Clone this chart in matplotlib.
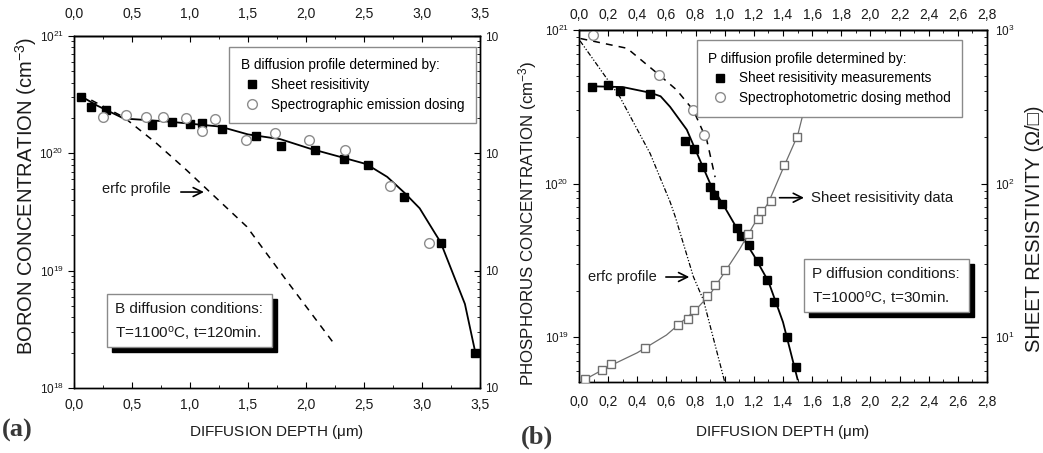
"""Boron / phosphorus diffusion profiles, two panels (a) and (b)."""
import numpy as np
import matplotlib
matplotlib.use("Agg")
import matplotlib.pyplot as plt
from matplotlib.patches import Rectangle
from matplotlib.ticker import (LogLocator, MultipleLocator, FuncFormatter,
                               NullFormatter, FixedLocator)

plt.rcParams.update({"font.family": ["Liberation Sans", "DejaVu Sans"],
                     "font.size": 10, "axes.linewidth": 1.0,
                     "mathtext.default": "regular"})

# ---- (a) boron -------------------------------------------------------------
B_SR_X = [0.06, 0.144, 0.276, 0.670, 0.848, 0.997, 1.101, 1.273, 1.569, 1.782,
          2.075, 2.325, 2.532, 2.845, 3.164, 3.455]
B_SR_C = [3.04e20, 2.47e20, 2.34e20, 1.75e20, 1.84e20, 1.79e20, 1.80e20, 1.62e20,
          1.41e20, 1.16e20, 1.07e20, 8.95e19, 8.0e19, 4.22e19, 1.71e19, 2.0e18]
B_SP_X = [0.247, 0.445, 0.621, 0.770, 0.963, 1.103, 1.213, 1.486, 1.730, 2.023,
          2.333, 2.724, 3.057]
B_SP_C = [2.03e20, 2.11e20, 2.06e20, 2.06e20, 1.99e20, 1.56e20, 1.95e20, 1.31e20,
          1.50e20, 1.30e20, 1.07e20, 5.3e19, 1.73e19]
B_FIT_X = [0.04, 0.2, 0.43, 0.8, 1.26, 1.5, 1.78, 2.03, 2.3, 2.52, 2.7, 2.85,
           2.98, 3.11, 3.16, 3.37, 3.46]
B_FIT_C = [3.15e20, 2.55e20, 1.98e20, 1.87e20, 1.69e20, 1.45e20, 1.32e20, 1.10e20,
           9.3e19, 8.1e19, 6.3e19, 4.6e19, 3.4e19, 2.1e19, 1.75e19, 5.2e18, 2.0e18]
B_ERFC_X = [0.05, 0.43, 0.71, 0.97, 1.2, 1.49, 1.83, 2.24]
B_ERFC_C = [3.2e20, 2.03e20, 1.22e20, 7.2e19, 4.4e19, 2.37e19, 8.3e18, 2.4e18]

# ---- (b) phosphorus ----------------------------------------------------------
P_SR_X = [0.087, 0.20, 0.28, 0.49, 0.728, 0.79, 0.843, 0.898, 0.927, 0.984,
          1.087, 1.113, 1.168, 1.227, 1.289, 1.339, 1.426, 1.486]
P_SR_C = [4.24e20, 4.37e20, 4.0e20, 3.83e20, 1.90e20, 1.69e20, 1.29e20, 9.5e19,
          8.45e19, 7.35e19, 5.1e19, 4.55e19, 3.98e19, 3.12e19, 2.35e19, 1.68e19,
          9.96e18, 6.4e18]
P_SP_X = [0.098, 0.55, 0.785, 0.859]
P_SP_C = [9.3e20, 5.1e20, 3.0e20, 2.07e20]
P_FIT_X = [0.08, 0.3, 0.49, 0.56, 0.625, 0.74, 0.8, 0.9, 1.0, 1.1, 1.2, 1.3,
           1.4, 1.5]
P_FIT_C = [4.3e20, 4.25e20, 3.9e20, 3.7e20, 3.16e20, 2.24e20, 1.65e20, 1.0e20,
           7.0e19, 4.8e19, 3.4e19, 2.3e19, 1.25e19, 5.3e18]
P_DASH_X = [0.01, 0.33, 0.55, 0.67, 0.785, 0.877, 0.934]
P_DASH_C = [8.8e20, 7.6e20, 5.1e20, 4.07e20, 3.0e20, 1.92e20, 1.1e20]
P_ERFC_X = [0.007, 0.28, 0.488, 0.625, 0.66, 0.785, 0.854, 1.0]
P_ERFC_C = [8.5e20, 3.67e20, 1.57e20, 7.6e19, 6.1e19, 2.47e19, 1.74e19, 5.1e18]
RS_X = [0.041, 0.156, 0.22, 0.455, 0.68, 0.746, 0.79, 0.879, 0.934, 1.005,
        1.160, 1.226, 1.252, 1.321, 1.408, 1.495]
RS_V = [5.3, 6.07, 6.67, 8.44, 11.9, 13.1, 15.0, 18.5, 21.7, 27.3, 47.0, 58.6,
        66.2, 76.9, 131.5, 199.6]
RS_FIT_X = [0.01, 0.2, 0.4, 0.6, 0.8, 0.9, 1.0, 1.1, 1.2, 1.3, 1.4, 1.5, 1.53]
RS_FIT_V = [5.1, 6.4, 7.9, 10.3, 15.0, 19.0, 26.5, 37, 54, 75, 125, 205, 266]

comma = FuncFormatter(lambda v, p: f"{v:.1f}".replace(".", ","))
TXT = "#1a1a1a"
GRAY = "#8c8c8c"
W, H = 1043, 453


def style_x(ax, major, minor, xmax, pad_bottom, pad_top):
    ax.set_xlim(0, xmax)
    top = ax.secondary_xaxis("top")
    for a, pad in ((ax, pad_bottom), (top, pad_top)):
        a.xaxis.set_major_locator(MultipleLocator(major))
        a.xaxis.set_minor_locator(MultipleLocator(minor))
        a.xaxis.set_major_formatter(comma)
        a.tick_params(axis="x", which="both", direction="in", labelsize=10,
                      labelcolor=TXT, pad=pad)
        a.tick_params(axis="x", which="major", length=4)
        a.tick_params(axis="x", which="minor", length=2.5)
    ax.tick_params(axis="x", which="both", top=False, labeltop=False)


def style_logy(ax, direction, pad=3.5):
    ax.set_yscale("log")
    ax.yaxis.set_minor_locator(LogLocator(base=10, subs=np.arange(2, 10)))
    ax.yaxis.set_minor_formatter(NullFormatter())
    ax.tick_params(axis="y", which="both", direction=direction, labelsize=8.5,
                   labelcolor=TXT, pad=pad)
    ax.tick_params(axis="y", which="major", length=4)
    ax.tick_params(axis="y", which="minor", length=2.5)


def shadow_box(ax, wpx, x0, y0, x1, y1, lines):
    dx, dy = 5 / wpx, 5 / 352
    ax.add_patch(Rectangle((x0 + dx, y0 - dy), x1 - x0, y1 - y0,
                           transform=ax.transAxes, facecolor="black",
                           edgecolor="black", zorder=5))
    ax.add_patch(Rectangle((x0, y0), x1 - x0, y1 - y0, transform=ax.transAxes,
                           facecolor="white", edgecolor="#8a8a8a", lw=1.0,
                           zorder=6))
    h = y1 - y0
    for i, s in enumerate(lines):
        ax.text(x0 + 8 / wpx, y1 - h * (0.28 + 0.46 * i), s,
                transform=ax.transAxes, ha="left", va="center", fontsize=11,
                color=TXT, zorder=7)


def legend(ax, handles, title, anchor):
    leg = ax.legend(handles=handles, title=title, loc="upper left",
                    bbox_to_anchor=anchor, borderaxespad=0, alignment="left",
                    fontsize=9.8, title_fontsize=9.8, fancybox=False,
                    edgecolor="#8a8a8a", framealpha=1, handlelength=1.65,
                    handletextpad=0.6, borderpad=0.85, labelspacing=0.42)
    leg.get_frame().set_linewidth(1.0)
    leg.set_zorder(8)
    return leg


fig = plt.figure(figsize=(W / 100, H / 100), dpi=100)

# ================= panel (a) =================
axA = fig.add_axes([74 / W, 1 - 388 / H, 406 / W, 352 / H])
style_x(axA, 0.5, 0.25, 3.5, pad_bottom=7.2, pad_top=10.8)
style_logy(axA, "out")
axA.set_ylim(1e18, 1e21)
axA.yaxis.set_major_locator(FixedLocator([1e18, 1e19, 1e20, 1e21]))

axA.plot(B_FIT_X, B_FIT_C, color="black", lw=1.3, zorder=3)
axA.plot(B_ERFC_X, B_ERFC_C, color="black", lw=1.1, dashes=(4.5, 4), zorder=3)
hA1, = axA.plot(B_SR_X, B_SR_C, ls="none", marker="s", ms=6.3, color="black",
                label="Sheet resisitivity", zorder=4)
hA2, = axA.plot(B_SP_X, B_SP_C, ls="none", marker="o", ms=7, mfc="white",
                mec=GRAY, mew=1.0, label="Spectrographic emission dosing",
                zorder=4)
legend(axA, [hA1, hA2], "B diffusion profile determined by:", (0.382, 0.969))

axA.annotate("", xy=(1.144, 4.68e19), xytext=(0.897, 4.68e19),
             arrowprops=dict(arrowstyle="->", color="black", lw=1.2,
                             mutation_scale=16))
axA.text(0.239, 4.93e19, "erfc profile", ha="left", va="center", fontsize=10.5,
         color=TXT)
shadow_box(axA, 406, 0.081, 0.1165, 0.488, 0.267,
           ["B diffusion conditions:", "T=1100$^{o}$C, t=120min."])

axA.set_xlabel("DIFFUSION DEPTH ($\\mu$m)", fontsize=11, color=TXT)
axA.xaxis.set_label_coords(0.5, -0.10)
axA.set_ylabel("BORON CONCENTRATION (cm$^{-3}$)", fontsize=14.5, color=TXT)
axA.yaxis.set_label_coords(-0.085, 0.545)

axA2 = axA.twinx()
style_logy(axA2, "in", pad=3.6)
axA2.set_ylim(1, 1000)
axA2.yaxis.set_major_formatter(FuncFormatter(lambda v, p: "10"))

# ================= panel (b) =================
axB = fig.add_axes([579 / W, 1 - 382 / H, 408 / W, 352 / H])
style_x(axB, 0.2, 0.1, 2.8, pad_bottom=9.4, pad_top=5.8)
style_logy(axB, "out")
axB.set_ylim(10 ** 18.707, 1e21)
axB.yaxis.set_major_locator(FixedLocator([1e19, 1e20, 1e21]))

axB.plot(P_FIT_X, P_FIT_C, color="black", lw=1.3, zorder=3)
axB.plot(P_DASH_X, P_DASH_C, color="black", lw=1.1, dashes=(4.5, 4), zorder=3)
axB.plot(P_ERFC_X, P_ERFC_C, color="black", lw=0.9,
         dashes=(4, 1.5, 1, 1.5, 1, 1.5), zorder=3)
hB1, = axB.plot(P_SR_X, P_SR_C, ls="none", marker="s", ms=6.3, color="black",
                label="Sheet resisitivity measurements", zorder=4)
hB2, = axB.plot(P_SP_X, P_SP_C, ls="none", marker="o", ms=7, mfc="white",
                mec=GRAY, mew=1.0, label="Spectrophotometric dosing method",
                zorder=4)
legend(axB, [hB1, hB2], "P diffusion profile determined by:", (0.2885, 0.9716))

axB.annotate("", xy=(0.776, 2.46e19), xytext=(0.577, 2.46e19),
             arrowprops=dict(arrowstyle="->", color="black", lw=1.2,
                             mutation_scale=16))
axB.text(0.064, 2.46e19, "erfc profile", ha="left", va="center", fontsize=10.5,
         color=TXT)
axB.annotate("", xy=(1.563, 8.08e19), xytext=(1.357, 8.08e19),
             arrowprops=dict(arrowstyle="->", color="black", lw=1.2,
                             mutation_scale=16))
axB.text(1.594, 8.08e19, "Sheet resisitivity data", ha="left", va="center",
         fontsize=10.8, color=TXT)
shadow_box(axB, 408, 0.551, 0.1997, 0.957, 0.3486,
           ["P diffusion conditions:", "T=1000$^{o}$C, t=30min."])

axB.set_xlabel("DIFFUSION DEPTH ($\\mu$m)", fontsize=11, color=TXT)
axB.xaxis.set_label_coords(0.5, -0.1165)
axB.set_ylabel("PHOSPHORUS CONCENTRATION (cm$^{-3}$)", fontsize=12.2, color=TXT)
axB.yaxis.set_label_coords(-0.098, 0.45)

axB2 = axB.twinx()
style_logy(axB2, "in", pad=5.8)
axB2.set_ylim(10 ** 0.707, 1000)
axB2.yaxis.set_major_locator(FixedLocator([10, 100, 1000]))
axB2.plot(RS_FIT_X, RS_FIT_V, color="#6e6e6e", lw=0.9, zorder=3)
axB2.plot(RS_X, RS_V, ls="none", marker="s", ms=6, mfc="white", mec="#6e6e6e",
          mew=1.0, zorder=4)
axB2.set_ylabel("SHEET RESISTIVITY (\u03a9/\u25a1)", fontsize=14.5, color=TXT,
                rotation=90)
axB2.yaxis.set_label_coords(1.093, 0.435)

fig.text(2 / W, 1 - 430 / H, "(a)", fontsize=19, fontweight="bold",
         family="Liberation Serif", color="#383838", va="center", ha="left")
fig.text(521 / W, 1 - 437 / H, "(b)", fontsize=19, fontweight="bold",
         family="Liberation Serif", color="#383838", va="center", ha="left")

fig.savefig("out.png", dpi=100)
